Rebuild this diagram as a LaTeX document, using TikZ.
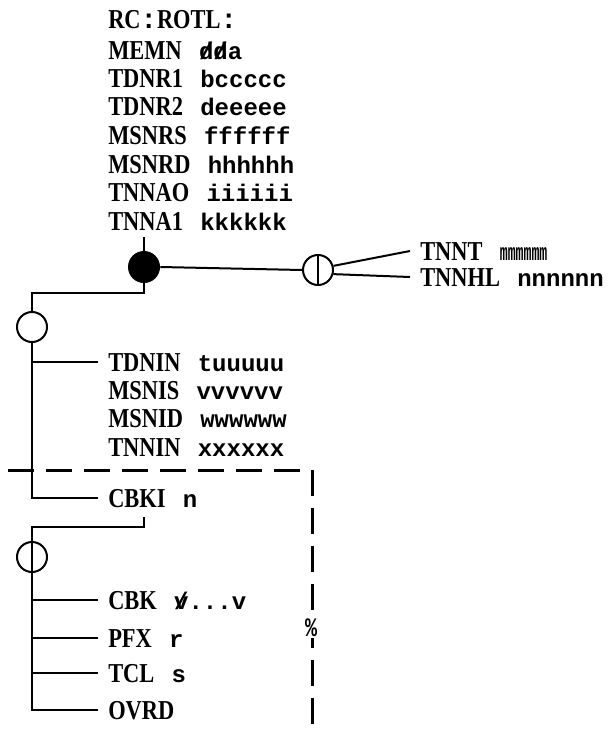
\documentclass[tikz,border=0pt]{standalone}
\usepackage{fontspec}
\setmainfont{Liberation Serif}
\newfontfamily\capfont[FakeStretch=0.82]{Liberation Serif Bold}
\newfontfamily\valfont{Liberation Mono Bold}
\usetikzlibrary{positioning}

% one line of the listing: name, then its value
\newcommand\regline[2]{{\capfont\fontsize{20.5pt}{21.5pt}\selectfont #1}\hspace{13pt}{\valfont\fontsize{18pt}{21.5pt}\selectfont #2}}
\newcommand\strk[1]{\rlap{/}#1}
\newcommand\vcolon{{\valfont :}}

\begin{document}
\begin{tikzpicture}[
    x=0.75pt, y=-0.75pt,
    wire/.style={line width=1.5pt},
    cutline/.style={line width=2.25pt, dash pattern=on 19.5pt off 9pt},
    ring/.style={circle, draw, line width=1.5pt, minimum size=22.5pt, inner sep=0pt},
    ringbar/.style={ring, path picture={\draw[line width=1.5pt] (path picture bounding box.north) -- (path picture bounding box.south);}},
    dot/.style={circle, fill, minimum size=24pt, inner sep=0pt},
    lbl/.style={anchor=west, inner ysep=0pt, inner xsep=7.5pt, text height=13.5pt, text depth=0pt}
  ]
  \useasboundingbox (0,0) rectangle (607,734);

  % register listing at the top
  \node[lbl] (rc)    at (98,20)  {\regline{RC\vcolon ROTL\vcolon}{}};
  \node[lbl] (memn)  at (98,51)  {\regline{MEMN}{\strk{d}\strk{d}a}};
  \node[lbl] (tdnr1) at (98,79)  {\regline{TDNR1}{bccccc}};
  \node[lbl] (tdnr2) at (98,107) {\regline{TDNR2}{deeeee}};
  \node[lbl] (msnrs) at (98,136) {\regline{MSNRS}{ffffff}};
  \node[lbl] (msnrd) at (98,165) {\regline{MSNRD}{hhhhhh}};
  \node[lbl] (tnnao) at (98,193) {\regline{TNNAO}{iiiiii}};
  \node[lbl] (tnna1) at (98,221) {\regline{TNNA1}{kkkkkk}};

  % junctions
  \node[dot] (fc) at (144,267) {};
  \node[ringbar] (dc) at (318,270) {};
  \node[ring] (oc1) at (32,327) {};
  \node[ringbar] (oc2) at (32,557) {};

  \node[lbl] (tnnt)  at (410,251) {\regline{TNNT}{\scalebox{0.55}[1]{mmmmmm}}};
  \node[lbl] (tnnhl) at (410,277) {\regline{TNNHL}{nnnnnn}};

  \node[lbl] (tdnin) at (98,362) {\regline{TDNIN}{tuuuuu}};
  \node[lbl] (msnis) at (98,390) {\regline{MSNIS}{vvvvvv}};
  \node[lbl] (msnid) at (98,418) {\regline{MSNID}{wwwwww}};
  \node[lbl] (tnnin) at (98,447) {\regline{TNNIN}{xxxxxx}};

  \node[lbl] (cbki)  at (98,498) {\regline{CBKI}{n}};

  \node[lbl] (cbk)   at (98,600) {\regline{CBK}{\strk{v}...v}};
  \node[lbl] (pfx)   at (98,638) {\regline{PFX}{r}};
  \node[lbl] (tcl)   at (98,673) {\regline{TCL}{s}};
  \node[lbl] (ovrd)  at (98,710) {\regline{OVRD}{}};

  \coordinate (j0) at (144,237);
  \coordinate (j1) at (144,293);
  \coordinate (j2) at (144,517);
  \coordinate (cutL) at (8,470);
  \coordinate (cutB) at (312,734);

  % connectors
  \draw[wire] (j0) -- (fc.north);
  \draw[wire] (fc.east) -- (dc.west);
  \draw[wire] (dc.15) -- (tnnt.west);
  \draw[wire] (dc.-15) -- (tnnhl.west);
  \draw[wire] (fc.south) -- (j1) -| (oc1.north);
  \draw[wire] (oc1.south) |- (cbki.west);
  \draw[wire] (oc1.south |- tdnin.west) -- (tdnin.west);
  \draw[wire] (j2) -- ++(0,10) -| (oc2.north);
  \draw[wire] (oc2.south) |- (ovrd.west);
  \draw[wire] (oc2.south |- cbk.west) -- (cbk.west);
  \draw[wire] (oc2.south |- pfx.west) -- (pfx.west);
  \draw[wire] (oc2.south |- tcl.west) -- (tcl.west);

  % cut line
  \draw[cutline] (cutL) -| (cutB);
  \node[fill=white, inner sep=1pt, font=\valfont\fontsize{20pt}{22pt}\selectfont] (pct) at (311,628) {\scalebox{0.75}[1]{\%}};
\end{tikzpicture}
\end{document}
